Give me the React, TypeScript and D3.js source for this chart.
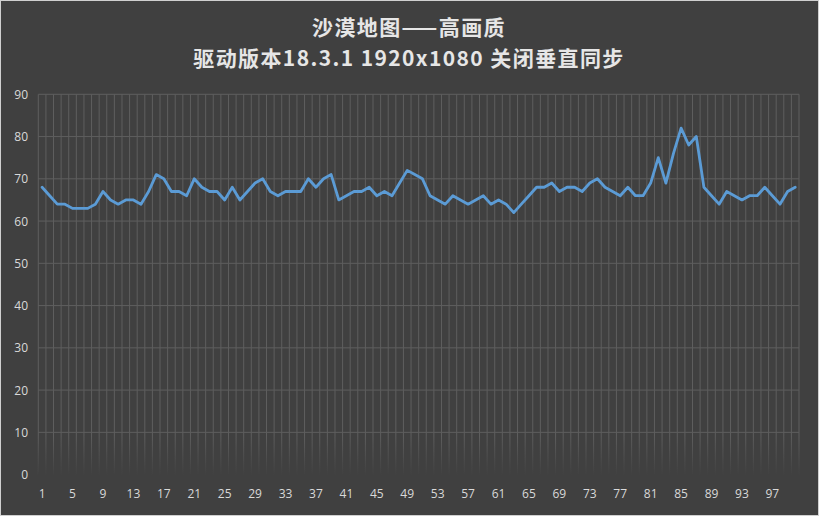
import React, { useRef, useEffect } from "react"
import * as d3 from "d3"

const titleLines = ["沙漠地图——高画质", "驱动版本18.3.1 1920x1080 关闭垂直同步"]

const fps = [
  68, 66, 64, 64, 63, 63, 63, 64, 67, 65,
  64, 65, 65, 64, 67, 71, 70, 67, 67, 66,
  70, 68, 67, 67, 65, 68, 65, 67, 69, 70,
  67, 66, 67, 67, 67, 70, 68, 70, 71, 65,
  66, 67, 67, 68, 66, 67, 66, 69, 72, 71,
  70, 66, 65, 64, 66, 65, 64, 65, 66, 64,
  65, 64, 62, 64, 66, 68, 68, 69, 67, 68,
  68, 67, 69, 70, 68, 67, 66, 68, 66, 66,
  69, 75, 69, 76, 82, 78, 80, 68, 66, 64,
  67, 66, 65, 66, 66, 68, 66, 64, 67, 68,
]
const samples = fps.map((_, i) => i + 1)
const yTicks = [0, 10, 20, 30, 40, 50, 60, 70, 80, 90]

export default function App() {
  const svgRef = useRef<SVGSVGElement>(null)

  useEffect(() => {
    const W = 819, H = 516
    const left = 38.3, right = 799, top = 94.3, bottom = 474.6
    const svg = d3.select(svgRef.current)
    svg.selectAll("*").remove()

    svg.append("rect").attr("width", W).attr("height", H).attr("fill", "#404040")
    svg.append("rect").attr("x", 0.5).attr("y", 0.5).attr("width", W - 1).attr("height", H - 1)
      .attr("fill", "none").attr("stroke", "#d0d0d0")

    // title, two lines
    svg.selectAll(".title").data(titleLines).enter().append("text")
      .attr("x", 409).attr("y", (d, i) => 35 + i * 31)
      .attr("text-anchor", "middle")
      .attr("font-family", "'Noto Sans CJK SC', sans-serif")
      .attr("font-weight", "bold").attr("font-size", "21px")
      .attr("letter-spacing", "1.4px")
      .attr("fill", "#e6e6e6")
      .text(d => d)

    const x = d3.scaleBand<number>().domain(samples).range([left, right])
    const y = d3.scaleLinear().domain([0, 90]).range([bottom, top])

    const grid = svg.append("g").attr("stroke", "#5e5e5e").attr("stroke-width", 1)
    // vertical gridlines between categories
    grid.selectAll(".vg").data(samples.concat([samples.length + 1])).enter().append("line")
      .attr("x1", d => (d <= samples.length ? x(d)! : right))
      .attr("x2", d => (d <= samples.length ? x(d)! : right))
      .attr("y1", top).attr("y2", bottom)
    grid.selectAll(".hg").data(yTicks.filter(t => t > 0)).enter().append("line")
      .attr("x1", left).attr("x2", right)
      .attr("y1", d => y(d)).attr("y2", d => y(d))

    // fade near the bottom
    const defs = svg.append("defs")
    const grad = defs.append("linearGradient").attr("id", "fade").attr("x1", 0).attr("x2", 0).attr("y1", 0).attr("y2", 1)
    grad.append("stop").attr("offset", "0%").attr("stop-color", "#404040").attr("stop-opacity", 0)
    grad.append("stop").attr("offset", "100%").attr("stop-color", "#404040").attr("stop-opacity", 1)
    svg.append("rect").attr("x", left - 1).attr("width", right - left + 2)
      .attr("y", 436).attr("height", bottom - 436 + 1).attr("fill", "url(#fade)")

    const line = d3.line<number>()
      .x((d, i) => x(samples[i])! + x.bandwidth() / 2)
      .y(d => y(d))
    svg.append("path").datum(fps)
      .attr("d", line)
      .attr("fill", "none")
      .attr("stroke", "#5b9bd5")
      .attr("stroke-width", 2.8)
      .attr("stroke-linejoin", "round")
      .attr("stroke-linecap", "round")

    const font = "'Open Sans', 'Noto Sans', sans-serif"
    svg.selectAll(".yt").data(yTicks).enter().append("text")
      .attr("x", 28).attr("y", d => y(d) + 4.5)
      .attr("text-anchor", "end")
      .attr("font-family", font).attr("font-size", "12px")
      .attr("fill", "#d9d9d9")
      .text(d => d)

    svg.selectAll(".xt").data(samples.filter(s => (s - 1) % 4 === 0)).enter().append("text")
      .attr("x", d => x(d)! + x.bandwidth() / 2).attr("y", 498)
      .attr("text-anchor", "middle")
      .attr("font-family", font).attr("font-size", "12px")
      .attr("fill", "#d9d9d9")
      .text(d => d)
  }, [])

  return (
    <svg ref={svgRef} width={819} height={516}
      style={{ position: "absolute", left: 0, top: 0, display: "block" }} />
  )
}
